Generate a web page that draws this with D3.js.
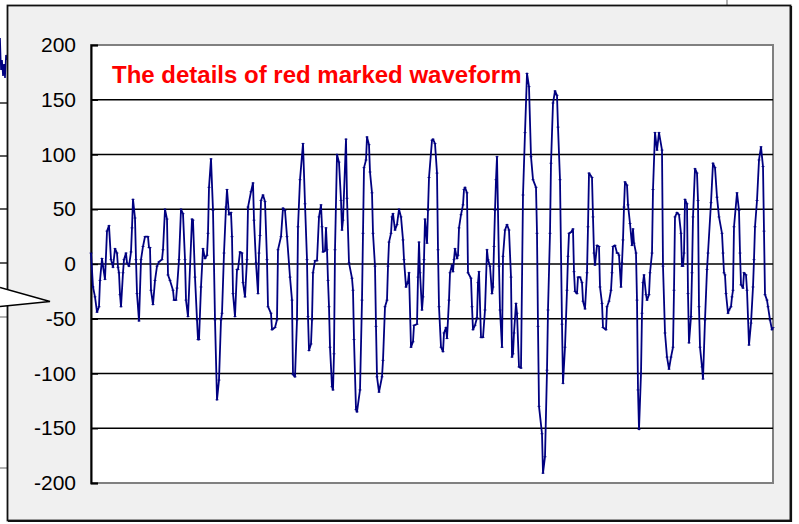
<!DOCTYPE html>
<html>
<head>
<meta charset="utf-8">
<script src="https://cdn.jsdelivr.net/npm/d3@7"></script>
<style>
  body { margin: 0; background: #ffffff; }
  svg { display: block; }
</style>
</head>
<body>
<svg width="799" height="524"></svg>
<script>
// sample index along the record (x) and amplitude (y)
var sampleIdx = [0,2,4,6,8,9,11,12,14,16,18,20,22,24,26,27,28,29,30,32,33,35,36,38,40,41,42,44,45,46,48,50,52,54,57,58,59,60,62,64,66,68,71,72,74,76,77,79,82,83,85,86,88,90,92,94,95,97,101,102,104,106,107,108,110,112,114,116,117,118,120,122,124,126,128,130,131,133,135,136,138,140,141,142,144,146,147,149,151,152,154,156,157,160,162,163,165,167,168,169,170,172,174,176,177,180,181,184,186,187,190,192,194,196,199,201,202,204,206,207,209,212,214,216,217,218,220,221,222,224,226,228,230,231,232,234,235,236,237,238,239,241,242,243,244,246,248,250,251,252,255,256,258,261,262,263,265,266,269,271,272,273,275,276,278,279,281,282,284,285,286,288,291,292,294,296,297,298,300,301,302,304,306,308,310,312,313,315,317,318,320,322,323,326,327,328,329,331,332,333,334,336,337,338,341,342,344,346,347,348,350,352,353,355,356,358,359,361,362,363,364,366,367,368,370,372,373,374,376,377,380,381,382,384,386,387,388,390,392,394,396,397,399,401,402,403,404,405,406,408,409,411,412,414,416,418,420,421,422,423,425,426,428,430,432,434,436,438,440,442,445,446,447,448,451,452,454,456,457,459,460,462,464,466,467,469,471,472,474,476,477,478,480,482,483,484,486,487,489,491,492,494,496,497,498,501,502,503,504,506,508,509,511,512,515,516,518,520,521,522,524,526,527,528,530,531,532,533,534,536,537,539,541,542,543,545,546,547,548,550,551,552,553,555,556,558,559,561,562,564,566,568,571,572,574,576,578,580,582,583,584,586,588,590,591,592,593,594,596,597,598,600,601,602,604,606,607,608,609,611,612,614,616,617,620,622,624,626,628,631,632,633,634,635,637,638,640,641,642,643,646,648,649,650,652,653,655,656,658,660,662,663,664,666,668,670,672,673,674,676,677,679,681,682]
var amplitude = [10,-21,-30,-44,-39,-15,5,-2,-14,30,35,4,-3,14,10,-3,-8,-28,-39,-8,4,10,1,-2,11,33,59,42,4,-27,-52,4,16,25,25,15,15,-24,-37,-15,-2,2,4,13,50,41,-10,-15,-24,-33,-33,-22,4,50,46,4,-33,-48,41,40,-12,-51,-69,-69,-21,14,5,8,28,70,96,49,-51,-124,-106,-51,-45,10,52,68,45,47,25,-27,-48,-5,-5,11,10,-17,-30,4,52,66,74,40,1,-27,10,26,58,63,57,4,-39,-45,-60,-58,-51,13,25,51,49,25,-12,-33,-101,-103,-51,34,77,110,55,4,-48,-79,-73,-51,-8,3,3,43,54,34,11,12,33,13,-15,-39,-76,-112,-115,-82,13,100,93,58,31,40,114,60,1,-13,-24,-69,-133,-135,-115,-33,28,88,95,116,109,84,65,28,-2,-57,-103,-117,-103,-88,-39,-33,-2,20,28,43,46,31,36,50,43,22,4,-21,-16,-8,-76,-71,-56,-55,-12,20,-8,-42,-30,4,41,19,49,79,113,114,110,83,13,-39,-76,-80,-63,-58,-68,-33,-8,-1,-7,4,14,5,8,33,45,54,68,70,65,-8,-13,-39,-60,-56,-49,-17,-7,-67,-67,-42,13,4,-2,-27,-21,16,49,77,98,-2,-42,-76,7,31,36,31,-12,-85,-82,-63,-36,-45,-94,-95,63,120,174,162,98,77,70,28,-57,-130,-155,-191,-176,-97,-42,28,92,147,158,154,125,77,-55,-109,-76,-24,7,28,29,32,-7,-25,-27,-12,-12,-17,-34,-41,-8,34,83,79,43,10,-1,17,16,-21,-36,-58,-60,-39,-34,-24,-8,16,17,10,10,8,-21,1,22,52,75,72,54,37,17,32,19,10,-33,-115,-151,-100,-45,-17,-10,-28,-33,-28,-8,10,68,120,104,120,104,-2,-63,-85,-96,-85,-76,-24,43,47,45,28,-2,-2,10,59,55,-27,-72,-48,-8,43,87,83,58,-39,-76,-94,-105,-51,-5,10,56,92,88,61,43,28,10,-8,-10,-27,-45,-42,-39,-30,-24,34,65,49,10,-19,-22,-8,-10,-24,-74,-54,-21,4,34,58,95,107,89,30,-28,-33,-39,-51,-60,-58]
var yTicks = [200, 150, 100, 50, 0, -50, -100, -150, -200]
var titleText = 'The details of red marked waveform'

var svg = d3.select('svg')

// bits of the chart behind the callout, only the left edge shows
var bgGrid = [103, 156, 209, 263]
svg.selectAll('line.bg')
    .data(bgGrid)
    .join('line')
    .attr('class', 'bg')
    .attr('x1', 0).attr('x2', 8)
    .attr('y1', d => d).attr('y2', d => d)
    .attr('stroke', '#000').attr('stroke-width', 1.3)
svg.append('line').attr('x1', 0).attr('x2', 8).attr('y1', 317).attr('y2', 317)
    .attr('stroke', '#888').attr('stroke-width', 1.3)
svg.append('line').attr('x1', 0).attr('x2', 8).attr('y1', 468).attr('y2', 468)
    .attr('stroke', '#888').attr('stroke-width', 1.3)
svg.append('line').attr('x1', 727).attr('x2', 727).attr('y1', 0).attr('y2', 6)
    .attr('stroke', '#888').attr('stroke-width', 1.3)
svg.append('path')
    .attr('d', 'M0,38 L1,70 L2,60 L3,76 L4,64 L5,78 L6,55 L7,60')
    .attr('fill', 'none').attr('stroke', '#000080').attr('stroke-width', 1.6)

// callout box
svg.append('rect')
    .attr('x', 7.5).attr('y', 5.5)
    .attr('width', 783).attr('height', 515)
    .attr('fill', '#f0f0f0')
    .attr('stroke', '#111').attr('stroke-width', 1.8)
// darker right / bottom edge
svg.append('path')
    .attr('d', 'M791,6 L791,521 L8,521')
    .attr('fill', 'none').attr('stroke', '#111').attr('stroke-width', 2.2)

// pointer
svg.append('path')
    .attr('d', 'M0,287.5 L50,301.5 L0,306.5')
    .attr('fill', '#fff').attr('stroke', '#000').attr('stroke-width', 1.5)

var margin = {left: 91, top: 45, right: 773, bottom: 483}

var x = d3.scaleLinear()
    .domain([0, 682])
    .range([margin.left, margin.right])

var y = d3.scaleLinear()
    .domain([-200, 200])
    .range([margin.bottom, margin.top])

// plot area
svg.append('rect')
    .attr('x', margin.left).attr('y', margin.top)
    .attr('width', margin.right - margin.left)
    .attr('height', margin.bottom - margin.top)
    .attr('fill', '#fff')
    .attr('stroke', '#808080').attr('stroke-width', 2)

// gridlines
svg.selectAll('line.grid')
    .data(yTicks.filter(d => d != 200 && d != -200))
    .join('line')
    .attr('class', 'grid')
    .attr('x1', margin.left).attr('x2', margin.right)
    .attr('y1', d => y(d)).attr('y2', d => y(d))
    .attr('stroke', '#000').attr('stroke-width', 1.4)

// y axis
var axis = d3.axisLeft(y)
    .tickValues(yTicks)
    .tickSize(-7)
    .tickPadding(16)
    .tickFormat(d => d)

var gAxis = svg.append('g')
    .attr('transform', 'translate(' + margin.left + ',0)')
    .call(axis)
gAxis.select('.domain').attr('stroke', '#000').attr('stroke-width', 2)
gAxis.selectAll('.tick line').attr('stroke', '#000').attr('stroke-width', 1.4)
gAxis.selectAll('.tick text')
    .attr('font-family', 'Liberation Sans, Arial, sans-serif')
    .attr('font-size', 21)
    .attr('fill', '#000')
    .attr('x', -15)

// the waveform
var pts = sampleIdx.map((d, i) => [d, amplitude[i]])

var line = d3.line()
    .x(d => x(d[0]))
    .y(d => y(d[1]))

svg.append('path')
    .datum(pts)
    .attr('d', line)
    .attr('fill', 'none')
    .attr('stroke', '#000080')
    .attr('stroke-width', 1.8)
    .attr('stroke-linejoin', 'round')

// tiny dash markers on each sample
svg.selectAll('line.mark')
    .data(pts)
    .join('line')
    .attr('class', 'mark')
    .attr('x1', d => x(d[0]) - 1.5).attr('x2', d => x(d[0]) + 1.5)
    .attr('y1', d => y(d[1])).attr('y2', d => y(d[1]))
    .attr('stroke', '#000080').attr('stroke-width', 0.8)

// title inside the plot
svg.append('text')
    .attr('x', 112)
    .attr('y', 83)
    .attr('font-family', 'Liberation Sans, Arial, sans-serif')
    .attr('font-weight', 'bold')
    .attr('font-size', 24)
    .attr('fill', '#ff0000')
    .text(titleText)
</script>
</body>
</html>
